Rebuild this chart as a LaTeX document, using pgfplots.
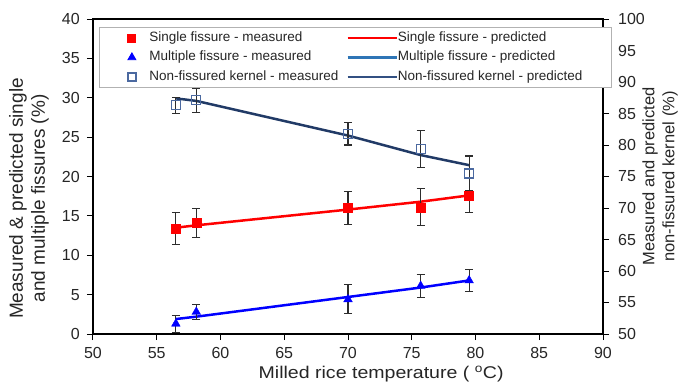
\documentclass[border=0pt]{standalone}
\usepackage{fontspec}
\setmainfont{Liberation Sans}
\newfontfamily\wideff[FakeStretch=1.15]{Liberation Sans}
\usepackage{pgfplots}
\usepackage{pgfplotstable}
\pgfplotsset{compat=1.18}
\definecolor{sred}{RGB}{255,0,0}
\definecolor{mblue}{RGB}{0,0,255}
\definecolor{mbleg}{RGB}{46,117,182}
\definecolor{navy}{RGB}{33,58,102}
\definecolor{navyleg}{RGB}{50,80,130}
\definecolor{nfc}{RGB}{75,105,160}
\definecolor{errc}{RGB}{45,45,45}

\pgfplotstableread{
x    s    se   m    me   n    ne
56.5 13.4 2.0  1.3  1.1  86.3 1.3
58.1 14.1 1.85 2.8  1.0  87.1 1.9
70.0 16.0 2.1  4.4  1.85 81.8 1.8
75.7 16.1 2.35 6.1  1.5  79.4 2.9
79.5 17.6 2.2  6.8  1.35 75.5 2.75
}\meas

\pgfplotstableread{
x    s    m    n
56.5 13.5 1.9  87.4
58.1 13.8 2.2  87.0
70.0 15.8 4.7  81.5
75.7 16.8 5.9  78.4
79.5 17.6 6.8  76.8
}\pred

\pgfplotsset{
  markimg/.style={legend image code/.code={\path (0pt,0pt) (49pt,0pt);\draw[##1] plot coordinates {(32pt,0pt)};}},
  lineimg/.style={legend image code/.code={\path (0pt,0pt) (57pt,0pt);\draw[##1] (8pt,0pt) -- (57pt,0pt);}},
  common/.style={
    scale only axis, width=510pt, height=315pt,
    xmin=50, xmax=90,
    tick align=outside, major tick length=6pt,
    every tick/.style={black, line width=1pt},
    axis line style={line width=2.2pt, black},
    ticklabel style={font=\fontsize{16}{16}\selectfont, text=black!85},
    /pgf/number format/assume math mode=true,
  },
  errs/.style={error bars/.cd, y dir=both, y explicit,
    error bar style={line width=1.1pt, color=errc},
    error mark options={rotate=90, mark size=4pt, line width=1.1pt, color=errc},
    /pgfplots/.cd},
}

\begin{document}
\begin{tikzpicture}
\useasboundingbox (-93pt,-49pt) rectangle (587pt,334pt);
\begin{axis}[common,
  ymin=0, ymax=40,
  xtick={50,55,...,90}, ytick={0,5,...,40},
  xtick pos=bottom, ytick pos=left,
  xticklabel style={anchor=north, inner sep=0pt, yshift=-7pt},
  yticklabel style={anchor=east, inner sep=0pt, xshift=-7pt},
  xlabel={Milled rice temperature ( \textsuperscript{o}C)},
  xlabel style={at={(axis description cs:0.565,0)}, anchor=center, yshift=-40pt, font=\wideff\fontsize{17}{17}\selectfont, text=black!85},
  ylabel={Measured \& predicted single\\and multiple fissures (\%)},
  ylabel style={at={(axis description cs:-0.1255,0.43)}, anchor=center, align=center, font=\fontsize{19}{22}\selectfont, text=black!85},
]
\addplot[sred, line width=2.5pt, forget plot] table[x=x, y=s]{\pred};
\addplot[mblue, line width=2.5pt, forget plot] table[x=x, y=m]{\pred};
\addplot[forget plot, only marks, mark=square*, mark size=4.5pt, color=sred, errs] table[x=x, y=s, y error=se]{\meas};
\addplot[forget plot, only marks, mark=triangle*, mark size=5pt, color=mblue, errs] table[x=x, y=m, y error=me]{\meas};
\end{axis}
\begin{axis}[common,
  ymin=50, ymax=100,
  axis x line=none, axis y line*=right,
  ytick={50,55,...,100},
  yticklabel style={anchor=west, inner sep=0pt, xshift=9pt},
  ylabel={Measured and predicted\\non-fissured kernel (\%)},
  ylabel style={at={(axis description cs:1.1118,0.5)}, anchor=center, align=center, font=\fontsize{16.5}{20}\selectfont, text=black!85},
  legend columns=2, legend cell align=left,
  legend style={at={(0,1)}, anchor=north west, xshift=6pt, yshift=-8pt,
    draw=gray!60, line width=0.9pt, fill=white,
    inner xsep=0pt, inner ysep=3pt, row sep=4.5pt, column sep=0pt,
    font=\fontsize{13.5}{15}\selectfont, text=black!85,
    nodes={inner sep=0pt, text height=11pt, text depth=4pt}},
]
\addplot[navy, line width=2.5pt, forget plot] table[x=x, y=n]{\pred};
\addplot[forget plot, only marks, mark=square, mark size=4.5pt, color=nfc, mark options={line width=1.3pt}, errs] table[x=x, y=n, y error=ne]{\meas};
\addlegendimage{markimg, only marks, mark=square*, mark size=4pt, sred}
\addlegendentry{Single fissure - measured}
\addlegendimage{lineimg, sred, line width=2.5pt}
\addlegendentry{Single fissure - predicted}
\addlegendimage{markimg, only marks, mark=triangle*, mark size=4.5pt, mblue}
\addlegendentry{Multiple fissure - measured}
\addlegendimage{lineimg, mbleg, line width=2.5pt}
\addlegendentry{Multiple fissure - predicted}
\addlegendimage{markimg, only marks, mark=square, mark size=4pt, nfc, mark options={line width=1.2pt}}
\addlegendentry{Non-fissured kernel - measured}
\addlegendimage{lineimg, navyleg, line width=2.5pt}
\addlegendentry{Non-fissured kernel - predicted\hspace*{29pt}}
\end{axis}
\end{tikzpicture}
\end{document}
